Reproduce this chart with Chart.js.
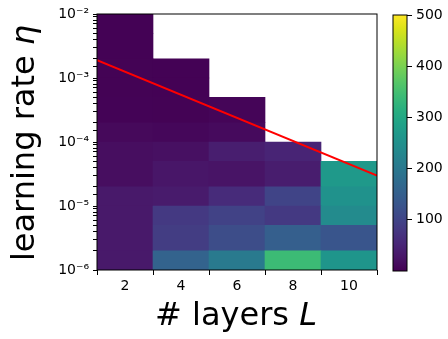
<!DOCTYPE html>
<html lang="en">
<head>
<meta charset="UTF-8">
<title>learning rate vs layers</title>
<script src="https://cdn.jsdelivr.net/npm/chart.js"></script>
<style>
  html, body { margin: 0; padding: 0; background: #fff; }
  #wrap { position: relative; width: 448px; height: 339px; }
  #main { position: absolute; left: 0; top: 0; }
  #cbar { position: absolute; left: 380px; top: 0; }
</style>
</head>
<body>
<div id="wrap">
  <canvas id="main" width="448" height="339"></canvas>
  <canvas id="cbar" width="68" height="339"></canvas>
</div>
<script>
// layer counts (column centres) and learning-rate band edges
const layers = [2, 4, 6, 8, 10];
const etaEdges = [1e-6, 2e-6, 5e-6, 1e-5, 2e-5, 5e-5, 1e-4, 2e-4, 5e-4, 1e-3, 2e-3, 5e-3, 1e-2];

// one row per eta band, bottom to top; one value per layer count (null = no run)
const row0  = [32, 158, 205, 342, 262];
const row1  = [32, 88, 115, 150, 130];
const row2  = [32, 82, 97, 82, 240];
const row3  = [32, 35, 60, 100, 255];
const row4  = [17, 28, 25, 38, 270];
const row5  = [17, 20, 40, 50, null];
const row6  = [10, 8, 12, null, null];
const row7  = [3, 2, 5, null, null];
const row8  = [2, 1, null, null, null];
const row9  = [2, 1, null, null, null];
const row10 = [1, null, null, null, null];
const row11 = [1, null, null, null, null];
const rows = [row0, row1, row2, row3, row4, row5, row6, row7, row8, row9, row10, row11];

// red reference line
const lineL = [1, 11];
const lineEta = [1.9e-3, 3.0e-5];

// colour bar
const vmin = 0, vmax = 500;
const cbarTicks = [100, 200, 300, 400, 500];

const viridis = ['#440154', '#481567', '#482677', '#453781', '#3f4788', '#39568c', '#33638d',
  '#2d708e', '#287d8e', '#238a8d', '#1f968b', '#20a387', '#29af7f', '#3cbb75', '#55c667',
  '#73d055', '#95d840', '#b8de29', '#dce319', '#fde725'];

function hexRgb(h) {
  return [parseInt(h.slice(1, 3), 16), parseInt(h.slice(3, 5), 16), parseInt(h.slice(5, 7), 16)];
}
function colorFor(v) {
  let t = Math.min(1, Math.max(0, (v - vmin) / (vmax - vmin))) * (viridis.length - 1);
  const i = Math.min(viridis.length - 2, Math.floor(t));
  const f = t - i;
  const a = hexRgb(viridis[i]), b = hexRgb(viridis[i + 1]);
  const c = a.map((x, k) => Math.round(x + (b[k] - x) * f));
  return 'rgb(' + c.join(',') + ')';
}

const sup = { '-': '\u207b', '0': '\u2070', '1': '\u00b9', '2': '\u00b2', '3': '\u00b3',
  '4': '\u2074', '5': '\u2075', '6': '\u2076', '7': '\u2077', '8': '\u2078', '9': '\u2079' };
function pow10Label(v) {
  const e = Math.log10(v);
  if (Math.abs(e - Math.round(e)) > 1e-6) return '';
  return '10' + String(Math.round(e)).split('').map(ch => sup[ch]).join('');
}

const FONT = "'DejaVu Sans', sans-serif";

const datasets = rows.map((vals, r) => {
  const data = [], colors = [];
  vals.forEach((v, i) => {
    if (v === null) return;
    data.push({ x: layers[i], y: [etaEdges[r], etaEdges[r + 1]] });
    colors.push(colorFor(v));
  });
  return {
    type: 'bar', data: data, backgroundColor: colors, borderWidth: 0,
    barPercentage: 1, categoryPercentage: 1, grouped: false, order: 1
  };
});
datasets.push({
  type: 'line',
  data: lineL.map((x, i) => ({ x: x, y: lineEta[i] })),
  borderColor: 'red', borderWidth: 2, pointRadius: 0, order: 0
});

function drawMixed(ctx, parts, cx, y, size) {
  const fonts = parts.map(p => (p.italic ? 'italic ' : '') + size + 'px ' + FONT);
  let total = 0;
  const widths = parts.map((p, i) => { ctx.font = fonts[i]; const w = ctx.measureText(p.text).width; total += w; return w; });
  let x = cx - total / 2;
  ctx.textAlign = 'left';
  ctx.textBaseline = 'alphabetic';
  parts.forEach((p, i) => { ctx.font = fonts[i]; ctx.fillText(p.text, x, y); x += widths[i]; });
}

const framePlugin = {
  id: 'frame',
  afterDraw(chart) {
    const { ctx, chartArea: a } = chart;
    ctx.save();
    ctx.strokeStyle = '#000';
    ctx.lineWidth = 1;
    ctx.strokeRect(a.left, a.top, a.right - a.left, a.bottom - a.top);
    ctx.restore();
  }
};

const titlesPlugin = {
  id: 'titles',
  afterDraw(chart) {
    const { ctx, chartArea: a } = chart;
    ctx.save();
    ctx.fillStyle = '#000';
    drawMixed(ctx, [{ text: '# layers ' }, { text: 'L', italic: true }], (a.left + a.right) / 2 - 1, 325, 32);
    ctx.translate(34, (a.top + a.bottom) / 2 + 1);
    ctx.rotate(-Math.PI / 2);
    drawMixed(ctx, [{ text: 'learning rate ' }, { text: '\u03b7', italic: true }], 0, 0, 32);
    ctx.restore();
  }
};

new Chart(document.getElementById('main'), {
  data: { datasets: datasets },
  options: {
    responsive: false,
    animation: false,
    layout: { padding: { left: 0, top: 14, right: 71, bottom: 0 } },
    plugins: { legend: { display: false }, tooltip: { enabled: false } },
    scales: {
      x: {
        type: 'linear', min: 1, max: 11, offset: false,
        afterBuildTicks: s => { s.ticks = layers.map(v => ({ value: v })); },
        afterFit: s => { s.height = 69; },
        border: { display: false },
        grid: { drawOnChartArea: false, tickLength: 5, color: '#000' },
        ticks: { color: '#000', font: { family: FONT, size: 14 }, padding: 3, maxRotation: 0 }
      },
      y: {
        type: 'logarithmic', min: 1e-6, max: 1e-2,
        afterFit: s => { s.width = 97; },
        border: { display: false },
        grid: { drawOnChartArea: false, tickLength: 4, color: '#000' },
        ticks: { color: '#000', font: { family: FONT, size: 14 }, padding: 4, autoSkip: false,
          callback: v => pow10Label(v) }
      }
    }
  },
  plugins: [framePlugin, titlesPlugin]
});

new Chart(document.getElementById('cbar'), {
  type: 'bar',
  data: {
    labels: ['cb'],
    datasets: [{
      data: [[vmin, vmax]],
      barPercentage: 1, categoryPercentage: 1, borderWidth: 0,
      backgroundColor: ctx => {
        const a = ctx.chart.chartArea;
        if (!a) return viridis[0];
        const g = ctx.chart.ctx.createLinearGradient(0, a.bottom, 0, a.top);
        viridis.forEach((c, i) => g.addColorStop(i / (viridis.length - 1), c));
        return g;
      }
    }]
  },
  options: {
    responsive: false,
    animation: false,
    layout: { padding: { left: 13, top: 15, right: 0, bottom: 68 } },
    plugins: { legend: { display: false }, tooltip: { enabled: false } },
    scales: {
      x: { display: false },
      y: {
        position: 'right', min: vmin, max: vmax,
        afterBuildTicks: s => { s.ticks = cbarTicks.map(v => ({ value: v })); },
        afterFit: s => { s.width = 41; },
        border: { display: false },
        grid: { drawOnChartArea: false, tickLength: 5, color: '#000' },
        ticks: { color: '#000', font: { family: FONT, size: 14 }, padding: 4 }
      }
    }
  },
  plugins: [framePlugin]
});
</script>
</body>
</html>
